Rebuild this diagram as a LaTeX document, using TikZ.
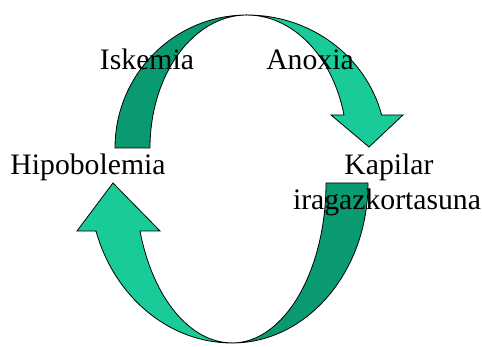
\documentclass[tikz,border=0pt]{standalone}
\usepackage{fontspec}
\setmainfont{Liberation Serif}
\definecolor{bandlight}{RGB}{24,203,152}
\definecolor{banddark}{RGB}{10,154,114}

\begin{document}
\begin{tikzpicture}[x=0.5pt,y=0.5pt,
  lbl/.style={inner sep=0pt, anchor=base, font=\fontsize{14.85}{16}\selectfont}]
\useasboundingbox (0,0) rectangle (482,347);
% upper arrow
\begin{scope}
\draw[fill=banddark, line width=0.4pt] (115,199)
  arc[start angle=180, end angle=90, x radius=132, y radius=133]
  arc[start angle=90, end angle=180, x radius=97, y radius=133] -- cycle;
\draw[fill=bandlight, line width=0.4pt] (247,332)
  arc[start angle=90, end angle=14.4, x radius=139, y radius=133]
  -- (403,232) -- (369,200) -- (331,232) -- (344,232)
  arc[start angle=14.4, end angle=90, x radius=100, y radius=133] -- cycle;
\end{scope}
% lower arrow
\begin{scope}
\draw[fill=banddark, line width=0.4pt] (326,164)
  arc[start angle=0, end angle=-90, x radius=94, y radius=160]
  arc[start angle=-90, end angle=0, x radius=136, y radius=160] -- cycle;
\draw[fill=bandlight, line width=0.4pt] (232,4)
  arc[start angle=-90, end angle=-162.5, x radius=142.6, y radius=160]
  -- (77,116) -- (113,164) -- (160,116) -- (140,116)
  arc[start angle=-162.5, end angle=-90, x radius=96.4, y radius=160] -- cycle;
\end{scope}
% labels
\node[lbl] (iskemia) at (147,277) {Iskemia};
\node[lbl] (anoxia) at (310,277) {Anoxia};
\node[lbl] (hipo) at (88,172) {Hipobolemia};
\node[lbl] (kapilar) at (389,172) {Kapilar};
\node[lbl] (iragaz) at (387,137) {iragazkortasuna};
\end{tikzpicture}
\end{document}
